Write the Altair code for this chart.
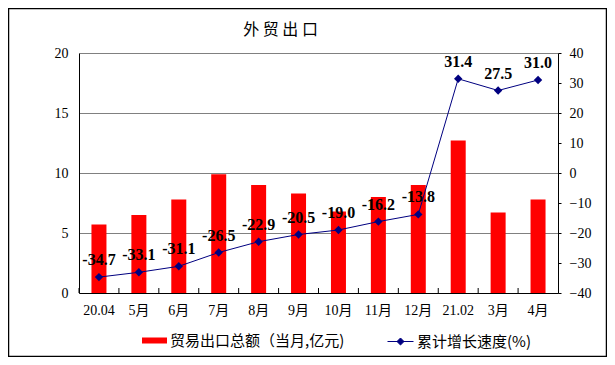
import altair as alt
import pandas as pd

months = ["20.04", "5月", "6月", "7月", "8月", "9月", "10月", "11月", "12月", "21.02", "3月", "4月"]
export_total = [5.7, 6.5, 7.8, 9.9, 9.0, 8.3, 6.8, 8.0, 9.0, 12.7, 6.7, 7.8]
growth = [-34.7, -33.1, -31.1, -26.5, -22.9, -20.5, -19.0, -16.2, -13.8, 31.4, 27.5, 31.0]
bar_name = "贸易出口总额（当月,亿元)"
line_name = "累计增长速度(%)"
title_text = "外 贸 出 口"

df = pd.DataFrame({
    "month": months,
    "export": export_total,
    "growth": growth,
    "bar_s": [bar_name] * len(months),
    "line_s": [line_name] * len(months),
    "label": [f"{v:.1f}" for v in growth],
})

SERIF = "'Liberation Serif', 'Noto Sans CJK SC'"
CJK = "'Noto Sans CJK SC'"
NAVY = "#000080"

x_enc = alt.X(
    "month:N", sort=months,
    scale=alt.Scale(paddingInner=0, paddingOuter=0),
    axis=alt.Axis(title=None, labelAngle=0, ticks=False, domainColor="black",
                  labelPadding=10, labelFont=SERIF, labelFontSize=14,
                  labelColor="black", grid=False),
)

frame = alt.Chart(pd.DataFrame({"a": [0]})).mark_rect(
    fillOpacity=0, stroke="black", strokeWidth=1.5
).encode(
    x=alt.value(-70.5), x2=alt.value(527.5), y=alt.value(-44.5), y2=alt.value(303.5)
)

bars = alt.Chart(df).mark_bar(size=15).encode(
    x=x_enc,
    y=alt.Y("export:Q", scale=alt.Scale(domain=[0, 20], nice=False),
            axis=alt.Axis(title=None, orient="left", values=[0, 5, 10, 15, 20], grid=True,
                          gridColor="#808080", ticks=False, domainColor="black",
                          labelPadding=11, labelFont=SERIF, labelFontSize=14,
                          labelColor="black")),
    color=alt.Color("bar_s:N", scale=alt.Scale(range=["#FF0000"]),
                    legend=alt.Legend(title=None, orient="none", legendX=63, legendY=275,
                                      symbolType="M-1,-0.24H1V0.24H-1Z", symbolSize=625,
                                      symbolStrokeWidth=0, labelFont=CJK, labelFontSize=15,
                                      labelColor="black", labelOffset=3, labelLimit=400)),
)

xticks = alt.Chart(df).mark_rule(color="black", strokeWidth=1).encode(
    x=alt.X("month:N", sort=months, bandPosition=0),
    y=alt.value(235), y2=alt.value(240),
)

y_right = alt.Y(
    "growth:Q", scale=alt.Scale(domain=[-40, 40], nice=False),
    axis=alt.Axis(title=None, orient="right", values=list(range(-40, 41, 10)),
                  grid=False, tickSize=3, tickColor="black", domainColor="black",
                  labelPadding=8, labelFont=SERIF, labelFontSize=14,
                  labelColor="black"),
)

line = alt.Chart(df).mark_line(strokeWidth=1).encode(
    x=x_enc,
    y=y_right,
    stroke=alt.Stroke("line_s:N", scale=alt.Scale(range=[NAVY]),
                      legend=alt.Legend(title=None, orient="none", legendX=308, legendY=275,
                                        symbolType="M-1,0H1M0,-0.27L0.27,0L0,0.27L-0.27,0Z",
                                        symbolSize=676, symbolFillColor=NAVY,
                                        symbolStrokeWidth=1, labelFont=CJK, labelFontSize=15,
                                        labelColor="black", labelOffset=3, labelLimit=400)),
)

points = alt.Chart(df).mark_point(shape="diamond", filled=True, size=70, color=NAVY, opacity=1).encode(
    x=x_enc,
    y=y_right,
)

labels = alt.Chart(df).mark_text(dy=-17, fontSize=16, fontWeight="bold", font=SERIF, color="black").encode(
    x=x_enc,
    y=y_right,
    text="label:N",
)

chart = alt.layer(
    frame, bars, xticks, alt.layer(line, points, labels)
).resolve_scale(y="independent").properties(
    width=479, height=240,
    title=alt.TitleParams(title_text, font=CJK, fontSize=16, fontWeight="normal",
                          anchor="middle", frame="group", dx=-38, offset=-30, color="black"),
    padding={"left": 71, "top": 45, "right": 49, "bottom": 64},
    autosize=alt.AutoSizeParams(type="none"),
).configure_view(stroke=None)

chart.save("out.html", embed_options={"renderer": "svg", "actions": False})
